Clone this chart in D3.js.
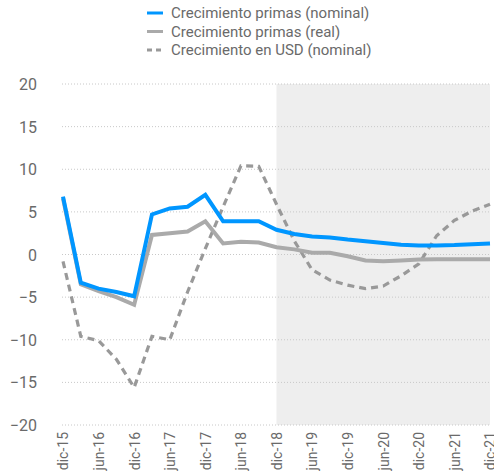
<!DOCTYPE html>
<html><head><meta charset="utf-8">
<script src="https://cdn.jsdelivr.net/npm/d3@7"></script>
<style>body{margin:0;background:#fff}svg{display:block}</style>
</head><body>
<svg id="c" width="494" height="475"></svg>
<script>
const quarters = ["dic-15","mar-16","jun-16","sep-16","dic-16","mar-17","jun-17","sep-17","dic-17","mar-18","jun-18","sep-18","dic-18","mar-19","jun-19","sep-19","dic-19","mar-20","jun-20","sep-20","dic-20","mar-21","jun-21","sep-21","dic-21"];
const tickLabels = ["dic-15","jun-16","dic-16","jun-17","dic-17","jun-18","dic-18","jun-19","dic-19","jun-20","dic-20","jun-21","dic-21"];
const nominal = [6.8,-3.3,-4.0,-4.4,-4.9,4.7,5.4,5.6,7.0,3.9,3.9,3.9,2.9,2.4,2.1,2.0,1.75,1.55,1.35,1.15,1.05,1.05,1.1,1.2,1.3];
const real = [6.6,-3.5,-4.3,-5.0,-5.9,2.3,2.5,2.7,3.9,1.3,1.5,1.4,0.85,0.6,0.2,0.2,-0.2,-0.7,-0.8,-0.7,-0.6,-0.55,-0.55,-0.55,-0.55];
const usd = [-0.8,-9.6,-10.1,-12.3,-15.6,-9.6,-10.0,-4.4,0.7,5.6,10.4,10.35,5.9,1.6,-1.8,-3.0,-3.6,-4.0,-3.7,-2.5,-1.1,2.2,4.0,5.1,5.9];
const yTicks = [20,15,10,5,0,-5,-10,-15,-20];
const shadeFrom = "dic-18";
const seriesNames = ["Crecimiento primas (nominal)","Crecimiento primas (real)","Crecimiento en USD (nominal)"];

const svg = d3.select("#c");
const m = {l:63, r:4, t:84, b:50};
const W = 494, H = 475;
const x = d3.scalePoint().domain(quarters).range([m.l, W - m.r]);
const y = d3.scaleLinear().domain([-20,20]).range([H - m.b, m.t]);

svg.append("rect")
  .attr("x", x(shadeFrom)).attr("y", y(20))
  .attr("width", x(quarters[quarters.length-1]) - x(shadeFrom))
  .attr("height", y(-20) - y(20))
  .attr("fill", "#eeeeee");

svg.append("g").selectAll("line").data(yTicks).join("line")
  .attr("x1", m.l - 1).attr("x2", W - m.r)
  .attr("y1", d => y(d)).attr("y2", d => y(d))
  .attr("stroke", "#c8c8c8").attr("stroke-width", 1).attr("stroke-dasharray", "1,2");

const yAxis = d3.axisLeft(y).tickValues(yTicks).tickSize(0).tickPadding(0).tickFormat(d3.format("d"));
const gy = svg.append("g").attr("transform", `translate(37,0)`).call(yAxis);
gy.select(".domain").remove();
gy.selectAll("text").attr("font-family","Roboto, 'DejaVu Sans', sans-serif").attr("font-size", 16).attr("fill","#6a6a6a").attr("dy","0.35em");

const xAxis = d3.axisBottom(x).tickValues(tickLabels).tickSize(0).tickPadding(0);
const gx = svg.append("g").attr("transform", `translate(0,${H - m.b + 7})`).call(xAxis);
gx.select(".domain").remove();
gx.selectAll("text")
  .attr("font-family","Roboto, 'DejaVu Sans', sans-serif").attr("font-size", 14).attr("fill","#6a6a6a")
  .attr("text-anchor","end").attr("transform","rotate(-90)").attr("dx", 0).attr("dy","0.35em").attr("y", 0).attr("x", 0);

const line = d3.line().x((d,i) => x(quarters[i])).y(d => y(d));

svg.append("path").datum(usd).attr("d", line).attr("fill","none")
  .attr("stroke","#999").attr("stroke-width",3.2).attr("stroke-dasharray","7,5");
svg.append("path").datum(real).attr("d", line).attr("fill","none")
  .attr("stroke","#aaa").attr("stroke-width",4).attr("stroke-linejoin","miter");
svg.append("path").datum(nominal).attr("d", line).attr("fill","none")
  .attr("stroke","#0096ff").attr("stroke-width",4).attr("stroke-linejoin","miter");

const lg = svg.append("g");
const styles = [
  {c:"#0096ff", w:3, dash:null},
  {c:"#aaa", w:3, dash:null},
  {c:"#999", w:3, dash:"5,4"}
];
seriesNames.forEach((n,i) => {
  const yy = 13 + i*18.5;
  lg.append("line").attr("x1",147).attr("x2",163).attr("y1",yy).attr("y2",yy)
    .attr("stroke",styles[i].c).attr("stroke-width",styles[i].w)
    .attr("stroke-dasharray",styles[i].dash);
  lg.append("text").attr("x",171).attr("y",yy).attr("dy","0.35em")
    .attr("font-family","Roboto, 'DejaVu Sans', sans-serif").attr("font-size",15).attr("fill","#6a6a6a").text(n);
});
</script>
</body></html>
